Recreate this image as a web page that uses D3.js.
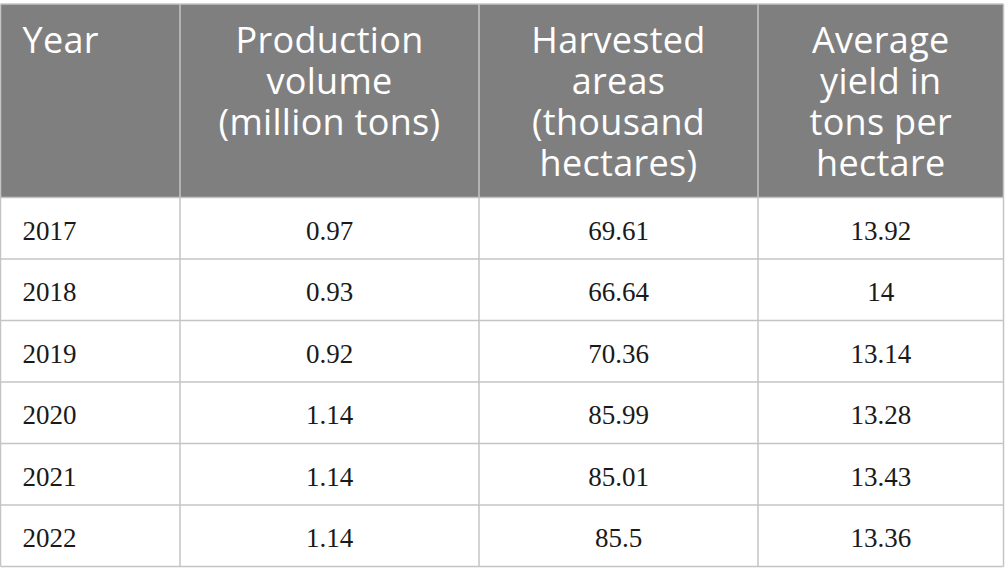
<!DOCTYPE html>
<html><head><meta charset="utf-8">
<script src="https://cdn.jsdelivr.net/npm/d3@7"></script>
<style>html,body{margin:0;padding:0;background:#fff;}svg{display:block;}</style>
</head><body>
<svg id="c" width="1005" height="585"></svg>
<script>
const headers = [["Year"],["Production","volume","(million tons)"],["Harvested","areas","(thousand","hectares)"],["Average","yield in","tons per","hectare"]];
const years = ["2017","2018","2019","2020","2021","2022"];
const production = ["0.97","0.93","0.92","1.14","1.14","1.14"];
const areas = ["69.61","66.64","70.36","85.99","85.01","85.5"];
const yields = ["13.92","14","13.14","13.28","13.43","13.36"];

const tTop = 4, headBottom = 197.5, tableBottom = 566.5, tLeft = 0.5, tRight = 1003.5;
const colEdges = [tLeft, 180, 479, 758, tRight];
const svg = d3.select("#c");
const grid = "#c4c4c4";

const rows = years.map((y,i)=>[y, production[i], areas[i], yields[i]]);
const yScale = d3.scaleBand().domain(d3.range(rows.length)).range([headBottom, tableBottom]);

svg.append("rect").attr("x",tLeft).attr("y",tTop).attr("width",tRight-tLeft).attr("height",headBottom-tTop).attr("fill","#7f7f7f");

headers.forEach((lines,ci)=>{
  const x0 = colEdges[ci], x1 = colEdges[ci+1];
  const anchor = ci===0 ? "start" : "middle";
  const tx = ci===0 ? x0+22 : (x0+x1)/2;
  lines.forEach((l,li)=>{
    svg.append("text").attr("x",tx).attr("y",53+li*41).attr("text-anchor",anchor)
      .attr("fill","#ffffff").style("font-family","'Open Sans', sans-serif")
      .style("font-size","36px").style("letter-spacing","0.3px").text(l);
  });
});

rows.forEach((r,ri)=>{
  r.forEach((v,ci)=>{
    const x0 = colEdges[ci], x1 = colEdges[ci+1];
    svg.append("text")
      .attr("x", ci===0 ? x0+22 : (x0+x1)/2)
      .attr("y", yScale(ri)+yScale.bandwidth()/2+11.5)
      .attr("text-anchor", ci===0 ? "start":"middle")
      .attr("fill","#1a1a1a")
      .style("font-family","'Liberation Serif','Times New Roman',serif").style("font-size","27px")
      .text(v);
  });
});

const g = svg.append("g").attr("stroke",grid).attr("stroke-width",1.5).attr("fill","none");
g.append("line").attr("x1",tLeft).attr("x2",tRight).attr("y1",tTop).attr("y2",tTop);
d3.range(rows.length+1).forEach(i=>{
  const y = i===rows.length ? tableBottom : yScale(i);
  g.append("line").attr("x1",tLeft).attr("x2",tRight).attr("y1",y).attr("y2",y);
});
colEdges.forEach(x=>{
  g.append("line").attr("x1",x).attr("x2",x).attr("y1",tTop).attr("y2",tableBottom);
});
</script>
</body></html>
